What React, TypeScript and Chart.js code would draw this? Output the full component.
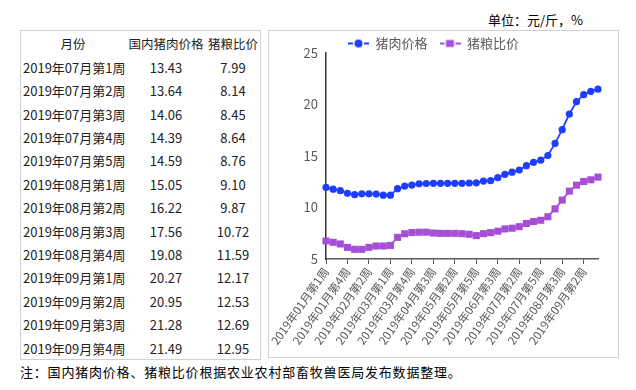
import React, { useEffect, useRef } from 'react';
import { Chart, registerables } from 'chart.js';

Chart.register(...registerables);

// ---- data ----
const months = ['01', '02', '03', '04', '05', '06', '07', '08', '09'];
const weeksPerMonth = [5, 4, 4, 4, 5, 4, 5, 4, 4];
const weekLabels: string[] = [];
months.forEach((m, i) => {
  for (let w = 1; w <= weeksPerMonth[i]; w++) weekLabels.push(`2019年${m}月第${w}周`);
});

const porkPrice = [
  11.95, 11.78, 11.63, 11.38, 11.25, 11.33, 11.33, 11.3, 11.2, 11.2,
  11.83, 12.08, 12.18, 12.3, 12.33, 12.35, 12.35, 12.35, 12.35, 12.35,
  12.38, 12.4, 12.57, 12.6, 12.9, 13.22,
  13.43, 13.64, 14.06, 14.39, 14.59, 15.05, 16.22, 17.56, 19.08, 20.27, 20.95, 21.28, 21.49,
];
const hogGrainRatio = [
  6.75, 6.62, 6.46, 6.13, 5.94, 5.94, 6.13, 6.26, 6.26, 6.32,
  7.1, 7.45, 7.57, 7.6, 7.6, 7.52, 7.49, 7.49, 7.49, 7.46,
  7.4, 7.27, 7.46, 7.56, 7.7, 7.92,
  7.99, 8.14, 8.45, 8.64, 8.76, 9.10, 9.87, 10.72, 11.59, 12.17, 12.53, 12.69, 12.95,
];
const seriesNames = ['猪肉价格', '猪粮比价'];
const tableHeaders = ['月份', '国内猪肉价格', '猪粮比价'];
const tableFirstIndex = 26; // 2019年07月第1周
const yMin = 5;
const yMax = 25;
const yStep = 5;
const xLabelEvery = 3;

const unitText = '单位：元/斤，%';
const noteText = '注：国内猪肉价格、猪粮比价根据农业农村部畜牧兽医局发布数据整理。';

const BLUE = '#1f3dff';
const PURPLE = '#a54fd8';
const FONT = '"Noto Sans CJK SC", "Noto Sans", sans-serif';

function legendIcon(color: string, square: boolean): HTMLCanvasElement {
  const c = document.createElement('canvas');
  c.width = 21;
  c.height = 10;
  const g = c.getContext('2d')!;
  g.strokeStyle = color;
  g.lineWidth = 2;
  g.beginPath();
  g.moveTo(0, 5); g.lineTo(5, 5);
  g.moveTo(16, 5); g.lineTo(21, 5);
  g.stroke();
  g.fillStyle = color;
  if (square) {
    g.fillRect(6.5, 1.5, 8, 7);
  } else {
    g.beginPath();
    g.arc(10.5, 5, 4, 0, Math.PI * 2);
    g.fill();
  }
  return c;
}

function PigChart() {
  const ref = useRef<HTMLCanvasElement | null>(null);
  useEffect(() => {
    if (!ref.current) return;
    const icons = [legendIcon(BLUE, false), legendIcon(PURPLE, true)];
    const legendFix = {
      id: 'legendFix',
      afterInit(chart: any) {
        const lg = chart.legend;
        if (!lg) return;
        const f = lg.fit.bind(lg);
        lg.fit = () => { f(); lg.height = 28; };
      },
    };
    const chart = new Chart(ref.current, {
      type: 'line',
      data: {
        labels: weekLabels,
        datasets: [
          {
            label: seriesNames[0],
            data: porkPrice,
            borderColor: BLUE,
            backgroundColor: BLUE,
            borderWidth: 1.75,
            pointStyle: 'circle',
            pointRadius: 3.6,
            pointBorderWidth: 0,
            tension: 0,
          },
          {
            label: seriesNames[1],
            data: hogGrainRatio,
            borderColor: PURPLE,
            backgroundColor: PURPLE,
            borderWidth: 1.75,
            pointStyle: 'rect',
            pointRadius: 5,
            pointBorderWidth: 0,
            tension: 0,
          },
        ],
      },
      plugins: [legendFix],
      options: {
        responsive: false,
        animation: false,
        layout: { padding: { top: -6, right: 20, bottom: 0, left: 0 } },
        plugins: {
          tooltip: { enabled: false },
          legend: {
            display: true,
            position: 'top',
            labels: {
              usePointStyle: true,
              pointStyleWidth: 21,
              padding: 12,
              color: '#595959',
              font: { family: FONT, size: 13 },
              generateLabels: (ch: any) => {
                const items = (Chart.defaults.plugins.legend.labels as any).generateLabels(ch);
                items.forEach((it: any, i: number) => { it.pointStyle = icons[i]; });
                return items;
              },
            },
          },
        },
        scales: {
          x: {
            type: 'category',
            offset: false,
            afterFit: (s: any) => { s.height = 98; },
            grid: {
              display: true,
              drawOnChartArea: false,
              drawTicks: true,
              tickLength: 5,
              color: '#595959',
              tickColor: '#595959',
            },
            border: { display: true, color: '#595959', width: 1.5 },
            ticks: {
              autoSkip: false,
              minRotation: 55,
              maxRotation: 55,
              padding: 1,
              color: '#595959',
              font: { family: FONT, size: 11.5 },
              callback: function (this: any, value: any, index: number) {
                return index % xLabelEvery === 0 ? this.getLabelForValue(value) : null;
              },
            },
          },
          y: {
            min: yMin,
            max: yMax,
            afterFit: (s: any) => { s.width = 57; },
            grid: { display: false, drawTicks: false },
            border: { display: true, color: '#333333', width: 1.5 },
            ticks: {
              stepSize: yStep,
              padding: 8,
              color: '#595959',
              font: { family: FONT, size: 13 },
            },
          },
        },
      },
    } as any);
    return () => chart.destroy();
  }, []);
  return <canvas ref={ref} width={349} height={326} style={{ display: 'block', width: 349, height: 326 }} />;
}

export default function App() {
  const rowH = 23.4;
  const firstCenter = 44;
  const tableRows = weekLabels.slice(tableFirstIndex).map((w, i) => ({
    week: w,
    price: porkPrice[tableFirstIndex + i].toFixed(2),
    ratio: hogGrainRatio[tableFirstIndex + i].toFixed(2),
  }));
  const cell = (top: number, left: number, width: number, align: 'left' | 'center', text: string, size: number, key: string) => (
    <div
      key={key}
      style={{
        position: 'absolute', top, left, width, height: rowH, lineHeight: `${rowH}px`,
        textAlign: align, fontSize: size, color: '#222', whiteSpace: 'nowrap',
      }}
    >{text}</div>
  );
  const all = [
    { week: tableHeaders[0], price: tableHeaders[1], ratio: tableHeaders[2], header: true },
    ...tableRows.map((r) => ({ ...r, header: false })),
  ];
  return (
    <div style={{ position: 'absolute', left: 0, top: 0, width: 636, height: 390, background: '#fff', fontFamily: FONT, overflow: 'hidden' }}>
      <div style={{ position: 'absolute', left: 488, top: 11, fontSize: 13, lineHeight: '18px', color: '#000', whiteSpace: 'nowrap' }}>{unitText}</div>
      <div style={{ position: 'absolute', left: 20, top: 30, width: 241, height: 330, border: '1px solid #d0d0d0', boxSizing: 'border-box' }} />
      {all.map((r, i) => {
        const top = firstCenter + i * rowH - rowH / 2;
        const size = r.header ? 12.5 : 13;
        return [
          cell(top, r.header ? 23 : 23, r.header ? 100 : 110, r.header ? 'center' : 'left', r.week, size, `a${i}`),
          cell(top, 121, 90, 'center', r.price, size, `b${i}`),
          cell(top, 200, 66, 'center', r.ratio, size, `c${i}`),
        ];
      })}
      <div style={{ position: 'absolute', left: 268, top: 30, width: 351, height: 328, border: '1px solid #d0d0d0', boxSizing: 'border-box', background: '#fff' }}>
        <PigChart />
      </div>
      <div style={{ position: 'absolute', left: 20, top: 363, fontSize: 13, lineHeight: '18px', letterSpacing: 0.8, color: '#000', whiteSpace: 'nowrap' }}>{noteText}</div>
    </div>
  );
}
